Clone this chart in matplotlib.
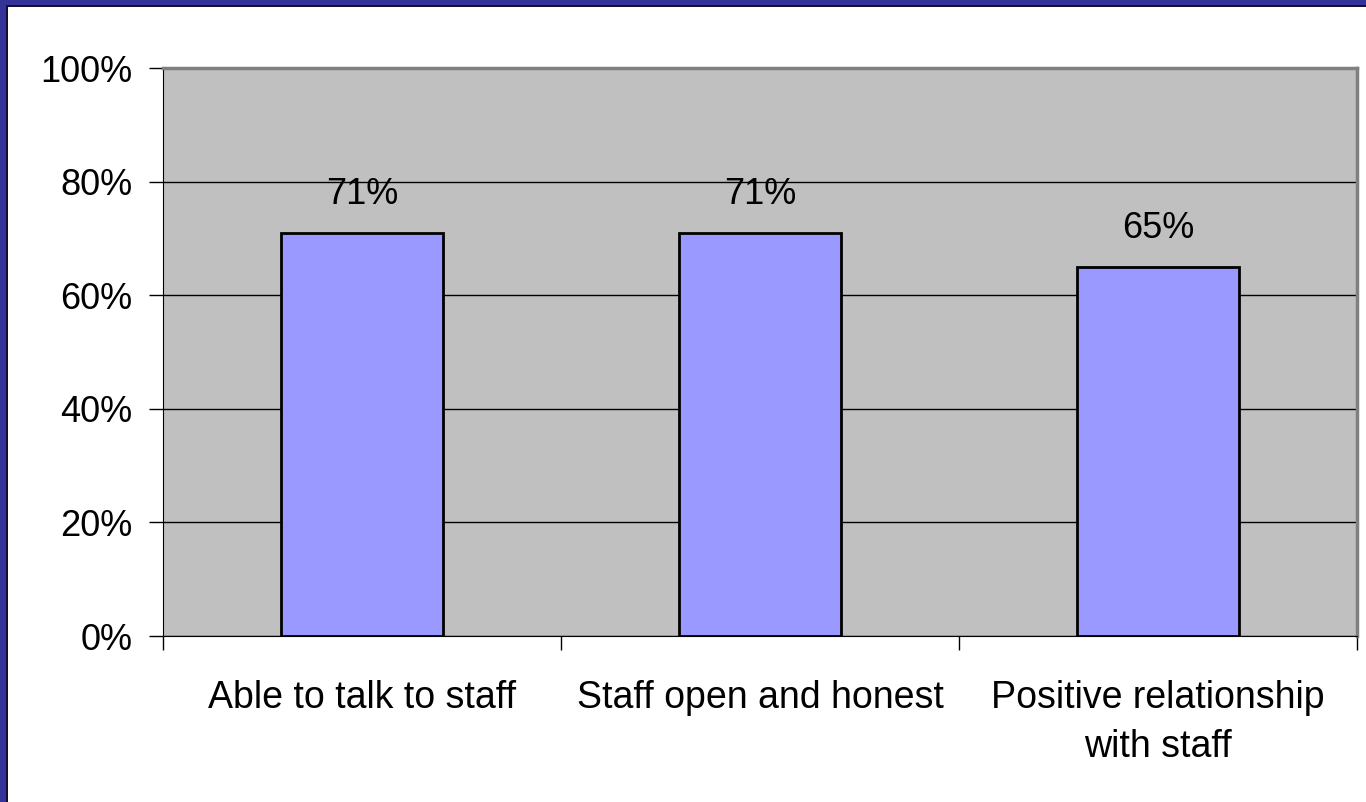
import numpy as np
import matplotlib.pyplot as plt
from matplotlib.patches import Rectangle
from matplotlib.ticker import PercentFormatter

categories = ['Able to talk to staff', 'Staff open and honest', 'Positive relationship\nwith staff']
values = [71, 71, 65]
yticks = [0, 20, 40, 60, 80, 100]

plt.rcParams['font.family'] = ['Liberation Sans', 'DejaVu Sans']

W, H = 1366, 802
fig = plt.figure(figsize=(W / 100, H / 100), dpi=100)
fig.patch.set_facecolor('white')
ax = fig.add_axes([163 / W, 1 - 636 / H, (1357 - 163) / W, (636 - 68) / H])
ax.set_facecolor('#C0C0C0')

x = np.arange(len(categories))
bars = ax.bar(x, values, width=0.405, color='#9999FF', edgecolor='black', linewidth=2, zorder=3)
for b, v in zip(bars, values):
    ax.text(b.get_x() + b.get_width() / 2, v + 6.7, f'{v}%', ha='center', va='center', fontsize=26, zorder=4)

ax.set_xlim(-0.5, len(categories) - 0.5)
ax.set_ylim(0, 100)
ax.set_yticks(yticks)
ax.yaxis.set_major_formatter(PercentFormatter(decimals=0))
ax.yaxis.grid(True, color='black', linewidth=1)
ax.set_axisbelow(True)

ax.set_xticks(x)
ax.set_xticklabels(categories, fontsize=27, linespacing=1.45)
ax.set_xticks(np.arange(len(categories) + 1) - 0.5, minor=True)
ax.tick_params(axis='x', which='major', length=0, pad=32)
ax.tick_params(axis='x', which='minor', length=10, width=1, direction='out')
ax.tick_params(axis='y', length=10, width=1, labelsize=26, pad=12)

for s in ['top', 'right']:
    ax.spines[s].set_color('#808080')
    ax.spines[s].set_linewidth(2.5)
ax.spines['left'].set_color('black')
ax.spines['bottom'].set_color('black')

# blue frame on the top and left edges of the slide
fig.patches.append(Rectangle((0, 0), 6 / W, 1, transform=fig.transFigure, color='#333399', lw=0, zorder=10))
fig.patches.append(Rectangle((6 / W, 0), 2 / W, 1 - 5 / H, transform=fig.transFigure, color='#111133', lw=0, zorder=10))
fig.patches.append(Rectangle((0, 1 - 5 / H), 1, 5 / H, transform=fig.transFigure, color='#333399', lw=0, zorder=10))
fig.patches.append(Rectangle((6 / W, 1 - 7 / H), 1, 2 / H, transform=fig.transFigure, color='#111133', lw=0, zorder=10))

fig.savefig('out.png', dpi=100, facecolor=fig.get_facecolor())
